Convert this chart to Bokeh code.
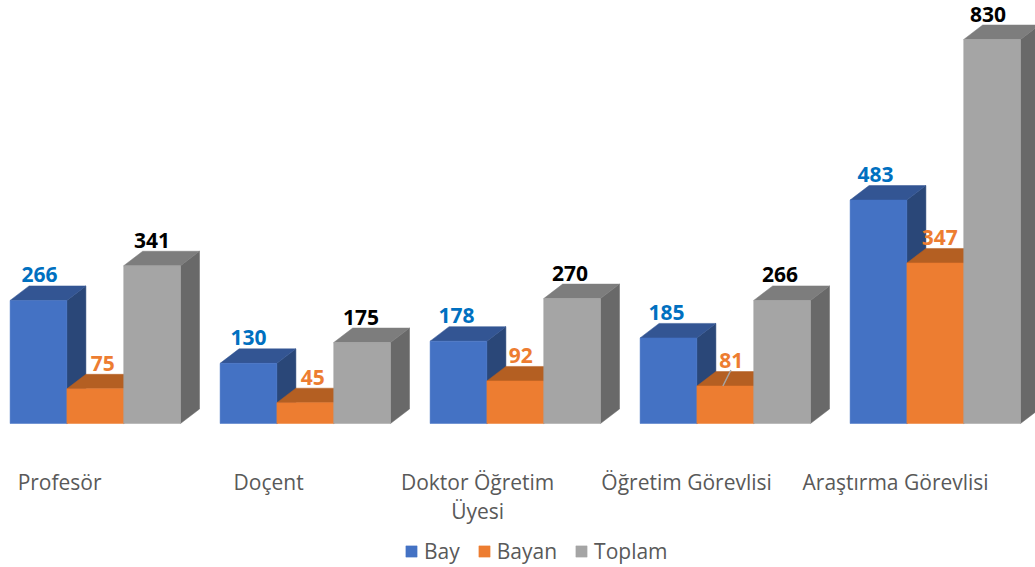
from bokeh.plotting import figure
from bokeh.models import Legend, LegendItem, FixedTicker, ColumnDataSource
from bokeh.embed import file_html
from bokeh.resources import INLINE
from bokeh.core.properties import value

categories = ["Profesör", "Doçent", "Doktor Öğretim\nÜyesi", "Öğretim Görevlisi", "Araştırma Görevlisi"]
bay = [266, 130, 178, 185, 483]
bayan = [75, 45, 92, 81, 347]
toplam = [341, 175, 270, 266, 830]
series_names = ["Bay", "Bayan", "Toplam"]

# layout
W, H = 1035, 567
PX_PER_GROUP = 210.0
PX_PER_UNIT = 384 / 830
BASE_PX = 423
BAR = 56.8 / PX_PER_GROUP
LEFT = 9.6 / PX_PER_GROUP
DX = 19 / PX_PER_GROUP
DY = 14.5 / PX_PER_UNIT
FONT = "Open Sans"

p = figure(width=W, height=H, output_backend="svg", toolbar_location=None,
           x_range=(-LEFT, -LEFT + W / PX_PER_GROUP),
           y_range=(-(H - BASE_PX) / PX_PER_UNIT, BASE_PX / PX_PER_UNIT),
           min_border_left=0, min_border_right=0, min_border_top=0, min_border_bottom=0,
           outline_line_color=None, background_fill_color=None, border_fill_color=None)
p.grid.visible = False
p.yaxis.visible = False

styles = [
    (bay, "#4472C4", "#335593", "#2A4778", "#0070C0", [1, 0, -2, -2, -3]),
    (bayan, "#ED7D31", "#B45F22", "#8F4C1E", "#ED7D31", [7.5, 7.5, 5.5, 6, 4.5]),
    (toplam, "#A5A5A5", "#7D7D7D", "#696969", "#000000", [0, -1, -2, -2, -4]),
]

legend_items = []
for s, (vals, front, top, side, txt, lab_dx) in enumerate(styles):
    xl = [i + s * BAR for i in range(len(vals))]
    xr = [x + BAR for x in xl]
    p.patches([[r, r + DX, r + DX, r] for r in xr],
              [[0, DY, v + DY, v] for v in vals],
              fill_color=side, line_color=side, line_width=0.5)
    p.patches([[l, r, r + DX, l + DX] for l, r in zip(xl, xr)],
              [[v, v, v + DY, v + DY] for v in vals],
              fill_color=top, line_color=top, line_width=0.5)
    q = p.quad(left=xl, right=xr, bottom=[0] * len(vals), top=vals,
               fill_color=front, line_color=front, line_width=0.5)
    legend_items.append(LegendItem(label=series_names[s], renderers=[q]))
    src = ColumnDataSource(dict(
        x=[(l + r) / 2 for l, r in zip(xl, xr)], y=vals,
        t=[str(v) for v in vals], dx=lab_dx))
    p.text("x", "y", "t", source=src, x_offset="dx", y_offset=-25.5,
           text_font=value(FONT), text_font_style="bold", text_font_size="21px",
           text_color=txt, text_align="center", text_baseline="alphabetic")

# leader line of the "81" label
g = 3
xa = g + BAR + 26 / PX_PER_GROUP
p.segment([xa], [bayan[g]], [xa + 8 / PX_PER_GROUP], [bayan[g] + 16 / PX_PER_UNIT],
          line_color="#A6A6A6", line_width=1.5)

# category axis
ticks = [(49.5 + 209 * i) / PX_PER_GROUP for i in range(len(categories))]
ax = p.xaxis[0]
ax.fixed_location = 0
ax.ticker = FixedTicker(ticks=ticks)
ax.major_label_overrides = dict(zip(ticks, categories))
ax.axis_line_color = None
ax.major_tick_line_color = None
ax.minor_tick_line_color = None
ax.major_label_standoff = 38
ax.major_label_orientation = "horizontal"
ax.major_label_text_font = FONT
ax.major_label_text_font_size = "21px"
ax.major_label_text_line_height = 1.07
ax.major_label_text_color = "#595959"

legend = Legend(items=legend_items, orientation="horizontal", location=(404, 2),
                glyph_width=14, glyph_height=14, label_standoff=6, spacing=17,
                padding=0, margin=0, border_line_color=None, background_fill_alpha=0,
                label_text_font=FONT, label_text_font_size="21px", label_text_color="#595959",
                label_height=14)
p.add_layout(legend, "center")

open("out.html", "w").write(file_html(p, INLINE))
